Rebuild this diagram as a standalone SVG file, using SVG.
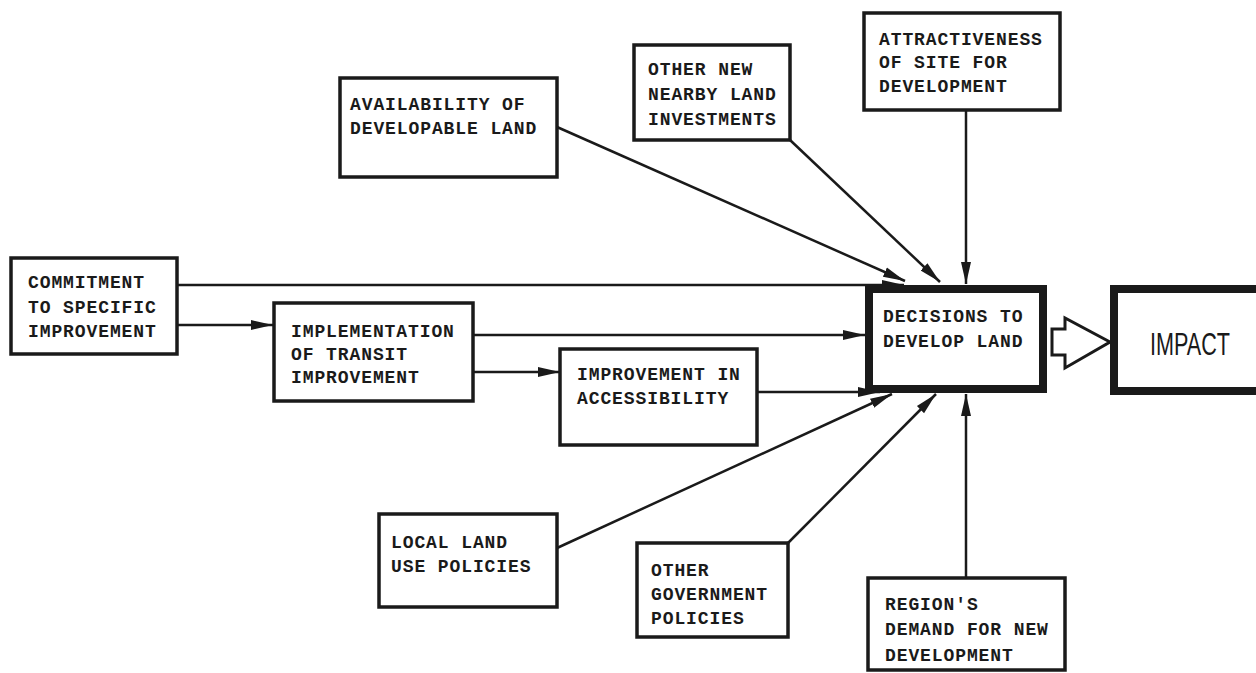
<svg xmlns="http://www.w3.org/2000/svg" width="1256" height="673" viewBox="0 0 1256 673">
<defs>
<marker id="ah" markerUnits="userSpaceOnUse" markerWidth="24" markerHeight="12" refX="22" refY="6" orient="auto">
<path d="M0,1 L22,6 L0,11 Z" fill="#1a1a1a"/>
</marker>
<style>
.box{fill:#fff;stroke:#1a1a1a;stroke-width:3.5}
.thick{fill:#fff;stroke:#1a1a1a;stroke-width:8}
.t{font-family:"Liberation Mono","DejaVu Sans Mono",monospace;font-weight:bold;font-size:18px;letter-spacing:0.9px;fill:#1a1a1a}
.c{fill:none;stroke:#1a1a1a;stroke-width:2.5}
</style>
</defs>
<rect width="1256" height="673" fill="#fff"/>
<g id="connectors">
<line class="c" x1="966" y1="110" x2="966" y2="284" marker-end="url(#ah)"/>
<line class="c" x1="790" y1="140" x2="940" y2="282" marker-end="url(#ah)"/>
<line class="c" x1="557" y1="127" x2="905" y2="281" marker-end="url(#ah)"/>
<line class="c" x1="177" y1="285" x2="904" y2="285" marker-end="url(#ah)"/>
<line class="c" x1="177" y1="325" x2="273" y2="325" marker-end="url(#ah)"/>
<line class="c" x1="473" y1="335" x2="865" y2="335" marker-end="url(#ah)"/>
<line class="c" x1="473" y1="372" x2="560" y2="372" marker-end="url(#ah)"/>
<line class="c" x1="757" y1="392" x2="880" y2="392" marker-end="url(#ah)"/>
<line class="c" x1="557" y1="548" x2="892" y2="394" marker-end="url(#ah)"/>
<line class="c" x1="788" y1="543" x2="936" y2="394" marker-end="url(#ah)"/>
<line class="c" x1="966" y1="578" x2="966" y2="394" marker-end="url(#ah)"/>
<path d="M1052,329 L1065,329 L1065,318 L1110,342 L1065,368 L1065,355 L1052,355 Z" fill="#fff" stroke="#1a1a1a" stroke-width="3"/>
</g>
<g id="availability">
<rect class="box" x="340" y="78" width="217" height="99"/>
<text class="t" x="350" y="110">AVAILABILITY OF</text>
<text class="t" x="350" y="134">DEVELOPABLE LAND</text>
</g>
<g id="other-new">
<rect class="box" x="634" y="45" width="156" height="95"/>
<text class="t" x="648" y="75">OTHER NEW</text>
<text class="t" x="648" y="100">NEARBY LAND</text>
<text class="t" x="648" y="125">INVESTMENTS</text>
</g>
<g id="attractiveness">
<rect class="box" x="864" y="13" width="196" height="97"/>
<text class="t" x="879" y="45">ATTRACTIVENESS</text>
<text class="t" x="879" y="68">OF SITE FOR</text>
<text class="t" x="879" y="92">DEVELOPMENT</text>
</g>
<g id="commitment">
<rect class="box" x="11" y="258" width="166" height="96"/>
<text class="t" x="28" y="288">COMMITMENT</text>
<text class="t" x="28" y="313">TO SPECIFIC</text>
<text class="t" x="28" y="337">IMPROVEMENT</text>
</g>
<g id="implementation">
<rect class="box" x="274" y="303" width="199" height="98"/>
<text class="t" x="291" y="337">IMPLEMENTATION</text>
<text class="t" x="291" y="360">OF TRANSIT</text>
<text class="t" x="291" y="383">IMPROVEMENT</text>
</g>
<g id="accessibility">
<rect class="box" x="560" y="349" width="197" height="96"/>
<text class="t" x="577" y="380">IMPROVEMENT IN</text>
<text class="t" x="577" y="404">ACCESSIBILITY</text>
</g>
<g id="decisions">
<rect class="thick" x="869" y="289" width="174" height="100"/>
<text class="t" x="883" y="322">DECISIONS TO</text>
<text class="t" x="883" y="347">DEVELOP LAND</text>
</g>
<g id="impact">
<rect class="thick" x="1114" y="289" width="150" height="102"/>
<text x="1150" y="355" font-family="Liberation Sans, Arial, sans-serif" font-size="31" fill="#1a1a1a" textLength="80" lengthAdjust="spacingAndGlyphs">IMPACT</text>
</g>
<g id="local-land">
<rect class="box" x="379" y="514" width="178" height="93"/>
<text class="t" x="391" y="548">LOCAL LAND</text>
<text class="t" x="391" y="572">USE POLICIES</text>
</g>
<g id="other-gov">
<rect class="box" x="637" y="543" width="151" height="94"/>
<text class="t" x="651" y="576">OTHER</text>
<text class="t" x="651" y="600">GOVERNMENT</text>
<text class="t" x="651" y="624">POLICIES</text>
</g>
<g id="region">
<rect class="box" x="868" y="578" width="197" height="92"/>
<text class="t" x="885" y="610">REGION'S</text>
<text class="t" x="885" y="635">DEMAND FOR NEW</text>
<text class="t" x="885" y="661">DEVELOPMENT</text>
</g>
</svg>
